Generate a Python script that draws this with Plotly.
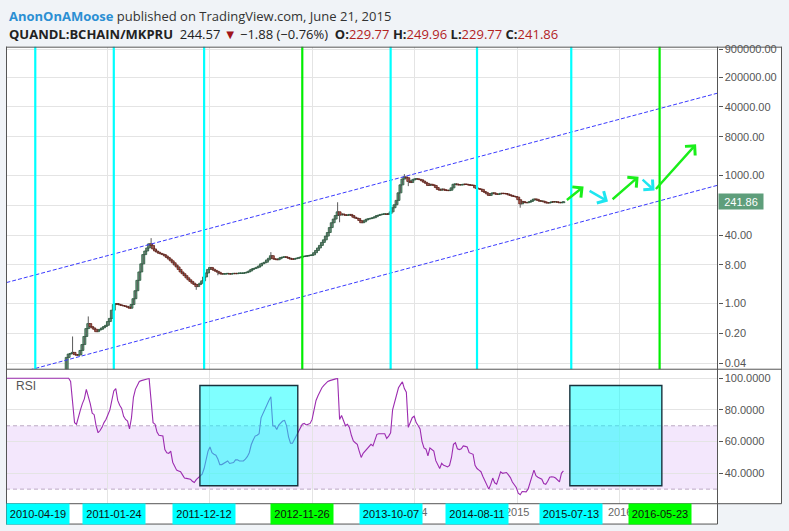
import math
import pandas as pd
import plotly.graph_objects as go

W, H = 789, 531

# ---------------- data ----------------
candle_start = "2010-08-09"          # first weekly bar (Monday)
first_open = 0.004
closes = [
    0.055, 0.066, 0.068, 0.072, 0.064, 0.062, 0.063, 0.08, 0.11, 0.17,
    0.26, 0.34, 0.29, 0.27, 0.25, 0.22, 0.24, 0.25, 0.27, 0.29,
    0.31, 0.38, 0.45, 0.7, 0.95, 1.0, 0.96, 0.93, 0.90, 0.88,
    0.86, 0.82, 0.78, 0.95, 1.3, 2.0, 3.5, 5.5, 8.5, 14,
    17, 20, 25, 23, 19, 17, 16, 15, 14.5, 14,
    13, 12, 11, 10, 9, 8, 7.2, 6.3, 5.5, 5.0,
    4.5, 4.0, 3.6, 3.3, 3.0, 2.8, 2.5, 2.8, 3.0, 3.4,
    4.2, 5.2, 6.3, 7.0, 6.4, 6.0, 5.7, 5.4, 5.0, 4.9,
    4.9, 5.0, 5.0, 4.9, 5.0, 5.1, 5.0, 5.1, 5.1, 5.1,
    5.2, 5.3, 5.5, 5.8, 6.3, 6.6, 6.8, 7.1, 7.6, 8.5,
    8.9, 9.3, 10.5, 11.5, 13.2, 11.2, 10.9, 10.6, 11.2, 12.0,
    12.2, 12.4, 12.0, 11.5, 11.0, 10.9, 11.2, 11.5, 11.8, 12.2,
    12.6, 12.8, 12.9, 13.3, 13.4, 13.8, 15.5, 17.5, 20, 23,
    27, 31, 38, 46, 60, 78, 95, 115, 140, 118,
    125, 120, 116, 118, 122, 115, 105, 100, 98, 88,
    78, 82, 90, 95, 97, 100, 102, 108, 115, 118,
    122, 124, 125, 122, 128, 140, 175, 205, 260, 390,
    600, 820, 920, 880, 720, 680, 780, 820, 830, 810,
    790, 740, 690, 650, 580, 620, 600, 580, 520, 470,
    450, 480, 460, 445, 440, 450, 510, 620, 630, 600,
    595, 600, 620, 615, 610, 590, 585, 580, 510, 490,
    480, 470, 420, 400, 370, 340, 375, 390, 370, 360,
    365, 380, 375, 372, 368, 350, 340, 325, 320, 310,
    270, 215, 245, 232, 228, 235, 245, 262, 280, 275,
    258, 248, 250, 240, 228, 225, 232, 240, 238, 240,
    235, 228, 229.77, 241.86,
]
high_wicks = {"2010-08-30": 0.17, "2010-10-25": 0.5, "2011-06-06": 34, "2012-08-06": 16,
              "2013-04-01": 235, "2013-11-25": 1070, "2015-06-15": 249.96}
low_wicks = {"2011-11-14": 2.1, "2012-01-30": 4.6, "2013-04-08": 80,
             "2013-12-09": 560, "2015-01-12": 175}

rsi_start = "2009-12-28"
rsi_values = [
    100, 100, 100, 100, 100, 100, 100, 100, 100, 100,
    100, 100, 100, 100, 100, 100, 100, 100, 100, 100,
    100, 100, 100, 100, 100, 100, 100, 100, 100, 100,
    100, 100, 100, 100, 98, 85, 72, 71, 76, 80,
    84, 87, 93, 89, 84, 78, 77, 70, 65.6, 67,
    69, 72, 74, 77, 80, 86, 92, 93.5, 86, 83,
    81, 76, 74, 73, 68, 75, 88, 93, 96, 98,
    98.5, 98.7, 99, 99.5, 99.8, 85, 72, 71, 66, 64,
    63.5, 63.5, 55, 53, 52.6, 54, 47, 44, 42, 41.5,
    41, 39, 37, 36.8, 36.5, 36.3, 35, 34.2, 36, 37.3,
    38.5, 39.4, 43, 48, 54, 56.6, 53, 52, 51.4, 49,
    45.5, 45.5, 46.3, 47, 47.8, 46.2, 46.5, 46.8, 48.5, 48.5,
    47.8, 47.8, 47.8, 49, 50.5, 53, 58, 61, 63.5, 64,
    65, 75, 78, 80.3, 84, 86, 88.3, 70, 69.8, 67.7,
    70.5, 72, 73, 73.4, 70, 63, 59, 59, 61.5, 64,
    66, 68.5, 71, 71.5, 70.5, 71, 71.5, 74, 80, 86,
    89, 92, 94, 95.5, 97, 98, 98.5, 99, 99.3, 99.6,
    99.8, 74, 76.5, 73, 70, 70.9, 69, 64, 60.4, 59.3,
    58.3, 54, 50, 52.6, 54, 55.6, 57, 58.3, 57.3, 61,
    64.6, 65, 65.2, 65, 65, 62, 63.5, 65.6, 80, 84.5,
    89, 94, 96, 97.7, 93.5, 91.2, 69, 72, 75.1, 76,
    72, 70.2, 68, 60, 56, 55.2, 51, 56, 55, 54,
    48, 45, 43, 46.3, 45, 44.6, 44, 45, 50, 58.3,
    59.3, 55.5, 55, 55.5, 57.3, 57, 56.6, 53, 52.5, 52,
    45, 43, 42, 41, 38, 35.5, 32, 30, 33, 37,
    34, 33.1, 37, 40.9, 40, 40.3, 40.5, 39, 37.3, 34.5,
    33, 31, 27.5, 26.5, 28.5, 28.6, 28.3, 30, 33.5, 38,
    42, 38.5, 37.5, 37, 36.3, 33.5, 33.1, 35, 37.5, 37.8,
    37.7, 37, 35.5, 34.6, 40, 41.5,
]

cyan_line_dates = ["2010-04-19", "2011-01-24", "2011-12-12", "2013-10-07", "2014-08-11", "2015-07-13"]
green_line_dates = ["2012-11-26", "2016-05-23"]
label_dates = ["2010-04-19", "2011-01-24", "2011-12-12", "2012-11-26",
               "2013-10-07", "2014-08-11", "2015-07-13", "2016-05-23"]
label_colors = ["#00ffff", "#00ffff", "#00ffff", "#00ff00",
                "#00ffff", "#00ffff", "#00ffff", "#00ff00"]
grid_dates = ["2011-01-01", "2012-01-01", "2013-01-01", "2014-01-01", "2015-01-01", "2016-01-01"]
year_dates = ["2014-01-01", "2015-01-01", "2016-01-01"]
year_text = ["2014", "2015", "2016"]

channel_dates = ["2010-01-06", "2016-12-15"]
channel_upper = [3.10, 83750]
channel_lower = [0.020, 585]

arrow_tail_dates = ["2015-06-22", "2015-09-11", "2015-12-02", "2016-03-18", "2016-05-05"]
arrow_tail_vals = [248, 455, 258, 851, 441]
arrow_head_dates = ["2015-08-26", "2015-11-21", "2016-03-09", "2016-05-05", "2016-09-30"]
arrow_head_vals = [546, 245, 933, 441, 5345]
arrow_colors = ["#1aee1a", "#1ee6f0", "#1aee1a", "#1ee6f0", "#1aee1a"]

rsi_box_x0 = ["2011-11-27", "2015-07-08"]
rsi_box_x1 = ["2012-11-10", "2016-05-31"]
rsi_box_y0 = [32.1, 32.1]
rsi_box_y1 = [95.4, 95.4]

price_ticks = [900000, 200000, 40000, 8000, 1000, 200, 40, 8, 1, 0.2, 0.04]
price_hidden_ticks = [200]          # label covered by the last-price tag
rsi_ticks = [100, 80, 60, 40]
last_price = 241.86

x_range = ["2010-01-06 10:00", "2016-12-15 10:00"]
price_range = [0.0291, 1.0e6]
rsi_range = [20.8, 105.7]

# ---------------- build ----------------
def fx(p):
    return p / W

def fy(p):
    return 1 - p / H

dates = pd.date_range(candle_start, periods=len(closes), freq="7D")
opens = [first_open] + closes[:-1]
highs = [max(o, c) for o, c in zip(opens, closes)]
lows = [min(o, c) for o, c in zip(opens, closes)]
for d, v in high_wicks.items():
    highs[dates.get_loc(pd.Timestamp(d))] = v
for d, v in low_wicks.items():
    lows[dates.get_loc(pd.Timestamp(d))] = v
rsi_dates = pd.date_range(rsi_start, periods=len(rsi_values), freq="7D")

FONT = "Liberation Sans, Arial, sans-serif"
fig = go.Figure()

# wicks
wx, wy = [], []
for d, lo, hi in zip(dates, lows, highs):
    wx += [d, d, None]
    wy += [lo, hi, None]
fig.add_trace(go.Scatter(x=wx, y=wy, mode="lines", xaxis="x", yaxis="y",
                         line=dict(color="#5a5a5a", width=1), hoverinfo="skip", showlegend=False))

# candle bodies
BODY_MS = 10.5 * 86400000
for up, fill, edge in ((True, "#6ba583", "#225437"), (False, "#d75442", "#5b1a13")):
    bx, bb, bh = [], [], []
    for d, o, c in zip(dates, opens, closes):
        if (c >= o) == up:
            bx.append(d)
            bb.append(min(o, c))
            bh.append(max(abs(c - o), min(o, c) * 0.02))
    fig.add_trace(go.Bar(x=bx, y=bh, base=bb, xaxis="x", yaxis="y", width=BODY_MS,
                         marker=dict(color=fill, line=dict(color=edge, width=0.8)),
                         hoverinfo="skip", showlegend=False))

for vals in (channel_upper, channel_lower):
    fig.add_trace(go.Scatter(x=channel_dates, y=vals, mode="lines", xaxis="x", yaxis="y",
                             line=dict(color="#3a3aff", width=1, dash="4px,2px"),
                             hoverinfo="skip", showlegend=False))

fig.add_trace(go.Scatter(x=rsi_dates, y=rsi_values, mode="lines", xaxis="x2", yaxis="y2",
                         line=dict(color="#9c2cb0", width=1.1), hoverinfo="skip",
                         showlegend=False))

shapes = []
shapes.append(dict(type="rect", xref="paper", yref="paper", x0=fx(6), x1=fx(781), y0=fy(503), y1=fy(43),
                   fillcolor="white", line=dict(width=0), layer="below"))
shapes.append(dict(type="rect", xref="paper", yref="paper", x0=fx(6), x1=fx(717), y0=fy(524), y1=fy(503),
                   fillcolor="white", line=dict(width=0), layer="below"))
shapes.append(dict(type="rect", xref="paper", yref="y2", x0=fx(6), x1=fx(717), y0=30, y1=70,
                   fillcolor="rgba(160,60,230,0.12)", line=dict(width=0), layer="below"))
for lvl in (30, 70):
    shapes.append(dict(type="line", xref="paper", yref="y2", x0=fx(6), x1=fx(717), y0=lvl, y1=lvl,
                       line=dict(color="#bcaac4", width=1, dash="4px,3px"), layer="below"))
for d in cyan_line_dates:
    shapes.append(dict(type="line", xref="x", yref="paper", x0=d, x1=d, y0=fy(368), y1=fy(43),
                       line=dict(color="#00ffff", width=2.2), layer="above"))
for d in green_line_dates:
    shapes.append(dict(type="line", xref="x", yref="paper", x0=d, x1=d, y0=fy(368), y1=fy(43),
                       line=dict(color="#00ee00", width=2.2), layer="above"))
for a, b, c, e in zip(rsi_box_x0, rsi_box_x1, rsi_box_y0, rsi_box_y1):
    shapes.append(dict(type="rect", xref="x2", yref="y2", x0=a, x1=b, y0=c, y1=e,
                       fillcolor="rgba(0,255,255,0.5)", line=dict(color="#17323d", width=1.4),
                       layer="above"))
BC = "#555555"
def hline(y, x0, x1):
    shapes.append(dict(type="line", xref="paper", yref="paper", x0=fx(x0), x1=fx(x1), y0=fy(y), y1=fy(y),
                       line=dict(color=BC, width=1), layer="above"))
def vline(x, y0, y1):
    shapes.append(dict(type="line", xref="paper", yref="paper", x0=fx(x), x1=fx(x), y0=fy(y0), y1=fy(y1),
                       line=dict(color=BC, width=1), layer="above"))
hline(43.5, 6, 781.5)
hline(368, 6, 781.5)
hline(503.5, 6, 781.5)
hline(524, 6, 717.5)
vline(6.5, 43, 524)
vline(717.5, 43, 524)
vline(781.5, 43, 503.5)
for d in label_dates:
    shapes.append(dict(type="line", xref="x", yref="paper", x0=d, x1=d, y0=fy(503.5), y1=fy(507),
                       line=dict(color=BC, width=1), layer="above"))

annotations = []
annotations.append(dict(xref="paper", yref="paper", x=fx(7), y=fy(12), xanchor="left", yanchor="middle",
                        showarrow=False,
                        text="<span style='color:#2b8fd3'><b>AnonOnAMoose</b></span> published on TradingView.com, June 21, 2015",
                        font=dict(family="Open Sans, sans-serif", size=13, color="#333333")))
RED = "#b2221f"
line2 = ("<b>QUANDL:BCHAIN/MKPRU</b>  244.57 <span style='color:#a0141a'>▼</span> −1.88 (−0.76%)  "
         f"<b>O:</b><span style='color:{RED}'>229.77</span> <b>H:</b><span style='color:{RED}'>249.96</span> "
         f"<b>L:</b><span style='color:{RED}'>229.77</span> <b>C:</b><span style='color:{RED}'>241.86</span>")
annotations.append(dict(xref="paper", yref="paper", x=fx(7), y=fy(30), xanchor="left", yanchor="middle",
                        showarrow=False, text=line2,
                        font=dict(family="Open Sans, sans-serif", size=13, color="#222222")))
annotations.append(dict(xref="paper", yref="paper", x=fx(14), y=fy(385), xanchor="left", yanchor="middle",
                        showarrow=False, text="RSI", font=dict(family=FONT, size=12, color="#555555")))
annotations.append(dict(xref="paper", yref="y", x=fx(717.5), y=math.log10(last_price), xanchor="left",
                        yanchor="middle", showarrow=False, text=f"{last_price:.2f}",
                        bgcolor="#5e9e7b", width=44, height=15, borderpad=0,
                        font=dict(family=FONT, size=11, color="white")))
for d, t in zip(year_dates, year_text):
    annotations.append(dict(xref="x", yref="paper", x=d, y=fy(512), xanchor="center", yanchor="middle",
                            showarrow=False, text=t, font=dict(family=FONT, size=11, color="#666666")))
for i, (d, c) in enumerate(zip(label_dates, label_colors)):
    annotations.append(dict(xref="x", yref="paper", x=d, y=fy(514), xanchor="center", yanchor="middle",
                            showarrow=False, text=d, bgcolor=c, width=62, height=20, borderpad=0,
                            xshift=3 if i == 0 else 0,
                            font=dict(family=FONT, size=11, color="#111111")))
for td, tv, hd, hv, c in zip(arrow_tail_dates, arrow_tail_vals, arrow_head_dates, arrow_head_vals, arrow_colors):
    annotations.append(dict(xref="x", yref="y", axref="x", ayref="y",
                            x=hd, y=math.log10(hv), ax=td, ay=math.log10(tv),
                            showarrow=True, arrowhead=4, arrowsize=1.1, arrowwidth=2.4,
                            arrowcolor=c, text="", standoff=0, startstandoff=0))

fig.update_layout(
    width=W, height=H, margin=dict(l=0, r=0, t=0, b=0),
    paper_bgcolor="#f0f3f7", plot_bgcolor="rgba(0,0,0,0)",
    showlegend=False, barmode="overlay",
    xaxis=dict(domain=[fx(6.5), fx(717.5)], range=x_range, type="date", anchor="y",
               showgrid=True, gridcolor="#e4e4e4", tickvals=grid_dates, showticklabels=False,
               ticks="", zeroline=False, showline=False),
    xaxis2=dict(domain=[fx(6.5), fx(717.5)], range=x_range, type="date", anchor="y2", matches="x",
                showgrid=True, gridcolor="#e4e4e4", tickvals=grid_dates, showticklabels=False,
                ticks="", zeroline=False, showline=False),
    yaxis=dict(domain=[fy(368), fy(43.5)], type="log",
               range=[math.log10(price_range[0]), math.log10(price_range[1])],
               side="right", anchor="x", tickvals=price_ticks,
               ticktext=["" if v in price_hidden_ticks else f"{v:.2f}" for v in price_ticks],
               showgrid=True, gridcolor="#e4e4e4", ticks="outside", ticklen=4, tickcolor=BC,
               tickfont=dict(family=FONT, size=11, color="#555555"), zeroline=False, showline=False),
    yaxis2=dict(domain=[fy(503.5), fy(368)], range=rsi_range, side="right", anchor="x2",
                tickvals=rsi_ticks, ticktext=[f"{v:.4f}" for v in rsi_ticks],
                showgrid=True, gridcolor="#e4e4e4", ticks="outside", ticklen=4, tickcolor=BC,
                tickfont=dict(family=FONT, size=11, color="#555555"), zeroline=False, showline=False),
    shapes=shapes, annotations=annotations,
)

fig.write_html("out.html", config={"displayModeBar": False},
               post_script="document.body.style.margin='0px';"
                           "document.body.style.backgroundColor='#f0f3f7';")
